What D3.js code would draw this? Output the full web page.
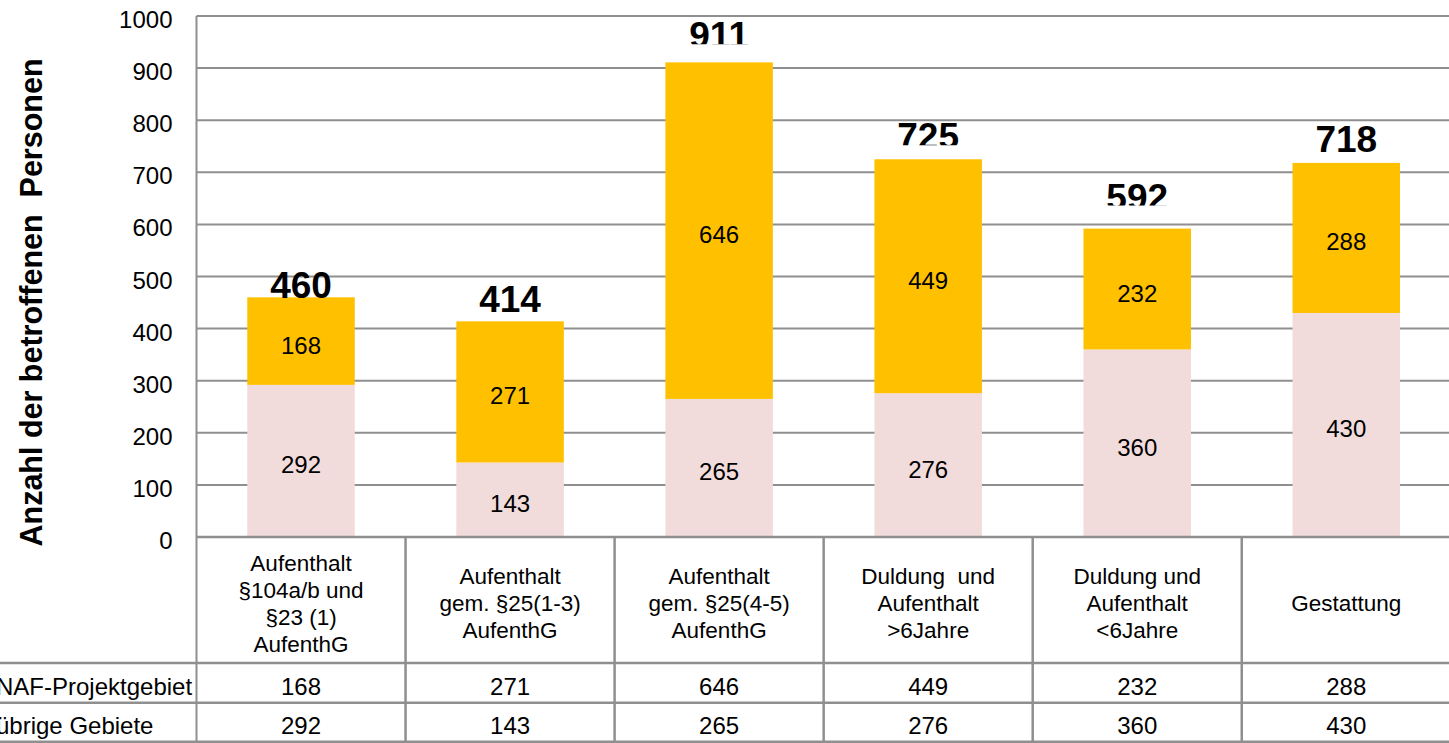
<!DOCTYPE html>
<html>
<head>
<meta charset="utf-8">
<script src="https://cdn.jsdelivr.net/npm/d3@7"></script>
<style>
  body { margin: 0; background: #fff; }
  svg { display: block; font-family: "Liberation Sans", Arial, sans-serif; }
  text { white-space: pre; }
</style>
</head>
<body>
<svg width="1449" height="743"></svg>
<script>
// Daten
const categories = [
    ["Aufenthalt", "§104a/b und", "§23 (1)", "AufenthG"],
    ["Aufenthalt", "gem. §25(1-3)", "AufenthG"],
    ["Aufenthalt", "gem. §25(4-5)", "AufenthG"],
    ["Duldung  und", "Aufenthalt", ">6Jahre"],
    ["Duldung und", "Aufenthalt", "<6Jahre"],
    ["Gestattung"]
];
const seriesNames = ["NAF-Projektgebiet", "übrige Gebiete"];
const nafValues = [168, 271, 646, 449, 232, 288];
const otherValues = [292, 143, 265, 276, 360, 430];
const yTicks = [0, 100, 200, 300, 400, 500, 600, 700, 800, 900, 1000];

// Layout
const svg = d3.select("svg");
const plotLeft = 196.5, band = 209.05;
const plotTop = 16, plotBottom = 537;
const gridColor = "#8f8f8f";

const x = d3.scaleBand()
    .domain(d3.range(categories.length))
    .range([plotLeft, plotLeft + band * categories.length])
    .paddingInner(0)
    .paddingOuter(0);
const barW = 107.5;
const y = d3.scaleLinear().domain([0, 1000]).range([plotBottom, plotTop]);

// Gitterlinien + Achsenbeschriftung
const yAxis = d3.axisLeft(y).tickValues(yTicks).tickFormat(d3.format("d")).tickSize(0).tickPadding(24);
const ax = svg.append("g").attr("transform", `translate(${plotLeft},0)`).call(yAxis);
ax.select(".domain").remove();
ax.selectAll("text")
    .attr("font-size", 24)
    .attr("fill", "#000")
    .attr("font-family", "Liberation Sans, Arial, sans-serif")
    .attr("dy", "11.5");

svg.append("g").selectAll("line")
    .data(yTicks.filter(d => d > 0))
    .join("line")
    .attr("x1", plotLeft).attr("x2", 1449)
    .attr("y1", d => y(d)).attr("y2", d => y(d))
    .attr("stroke", gridColor).attr("stroke-width", 2);

// gestapelte Balken
const stackData = categories.map((c, i) => ({ i, naf: nafValues[i], other: otherValues[i] }));
const stack = d3.stack().keys(["other", "naf"])(stackData);
const colors = { other: "#F2DCDB", naf: "#FFC000" };

stack.forEach(layer => {
    const g = svg.append("g");
    g.selectAll("rect")
        .data(layer)
        .join("rect")
        .attr("x", d => x(d.data.i) + (band - barW) / 2)
        .attr("width", barW)
        .attr("y", d => y(d[1]))
        .attr("height", d => y(d[0]) - y(d[1]))
        .attr("fill", colors[layer.key]);
    g.selectAll("text")
        .data(layer)
        .join("text")
        .attr("x", d => x(d.data.i) + band / 2)
        .attr("y", d => (y(d[0]) + y(d[1])) / 2 + 12.5)
        .attr("text-anchor", "middle")
        .attr("font-size", 24)
        .text(d => d[1] - d[0]);
});

// Summen ueber den Balken
const totals = stackData.map(d => d.naf + d.other);
const totalLift = [-1, 9, 14, 10, 19, 11];
const totalClipped = [false, false, true, true, true, false];
const defs = svg.append("defs");
totals.forEach((t, i) => {
    const base = y(t) - totalLift[i];
    const cx = x(i) + band / 2;
    const txt = svg.append("text")
        .attr("x", cx)
        .attr("y", base)
        .attr("text-anchor", "middle")
        .attr("font-size", 37)
        .attr("font-weight", "bold")
        .text(t);
    if (totalClipped[i]) {
        defs.append("clipPath").attr("id", "clip" + i)
            .append("rect")
            .attr("x", cx - 80).attr("width", 160)
            .attr("y", base - 45).attr("height", 41);
        txt.attr("clip-path", `url(#clip${i})`);
    }
});

// Y-Achsentitel
svg.append("text")
    .attr("transform", `translate(42,${(55 + 550) / 2}) rotate(-90)`)
    .attr("text-anchor", "middle")
    .attr("font-size", 30.5)
    .attr("font-weight", "bold")
    .text("Anzahl der betroffenen  Personen");

// Datentabelle
const rowLines = [663, 702.7, 741.7];
const tbl = svg.append("g");
tbl.append("line")
    .attr("x1", plotLeft).attr("x2", 1449)
    .attr("y1", plotBottom).attr("y2", plotBottom)
    .attr("stroke", gridColor).attr("stroke-width", 2.5);
rowLines.forEach(ry => {
    tbl.append("line")
        .attr("x1", 0).attr("x2", 1449)
        .attr("y1", ry).attr("y2", ry)
        .attr("stroke", gridColor).attr("stroke-width", 2.5);
});
// vertikale Linien
d3.range(categories.length).forEach(i => {
    tbl.append("line")
        .attr("x1", x(i)).attr("x2", x(i))
        .attr("y1", i === 0 ? plotTop : plotBottom).attr("y2", 743)
        .attr("stroke", gridColor).attr("stroke-width", i === 0 ? 2 : 2.5);
});

// Kategorien im Tabellenkopf
const lineH = 27;
categories.forEach((lines, i) => {
    const t = tbl.append("text")
        .attr("text-anchor", "middle")
        .attr("font-size", 22.5);
    const firstBase = 611 - (lines.length - 1) / 2 * lineH;
    lines.forEach((l, k) => {
        t.append("tspan")
            .attr("x", x(i) + band / 2)
            .attr("y", firstBase + k * lineH)
            .text(l);
    });
});

// Werte-Zeilen
const rows = [nafValues, otherValues];
rows.forEach((vals, r) => {
    const baseY = r === 0 ? 695 : 733.5;
    tbl.append("text")
        .attr("x", -4)
        .attr("y", baseY)
        .attr("font-size", 24)
        .text(seriesNames[r]);
    tbl.selectAll(null)
        .data(vals)
        .join("text")
        .attr("x", (d, i) => x(i) + band / 2)
        .attr("y", baseY)
        .attr("text-anchor", "middle")
        .attr("font-size", 24)
        .text(d => d);
});
</script>
</body>
</html>
